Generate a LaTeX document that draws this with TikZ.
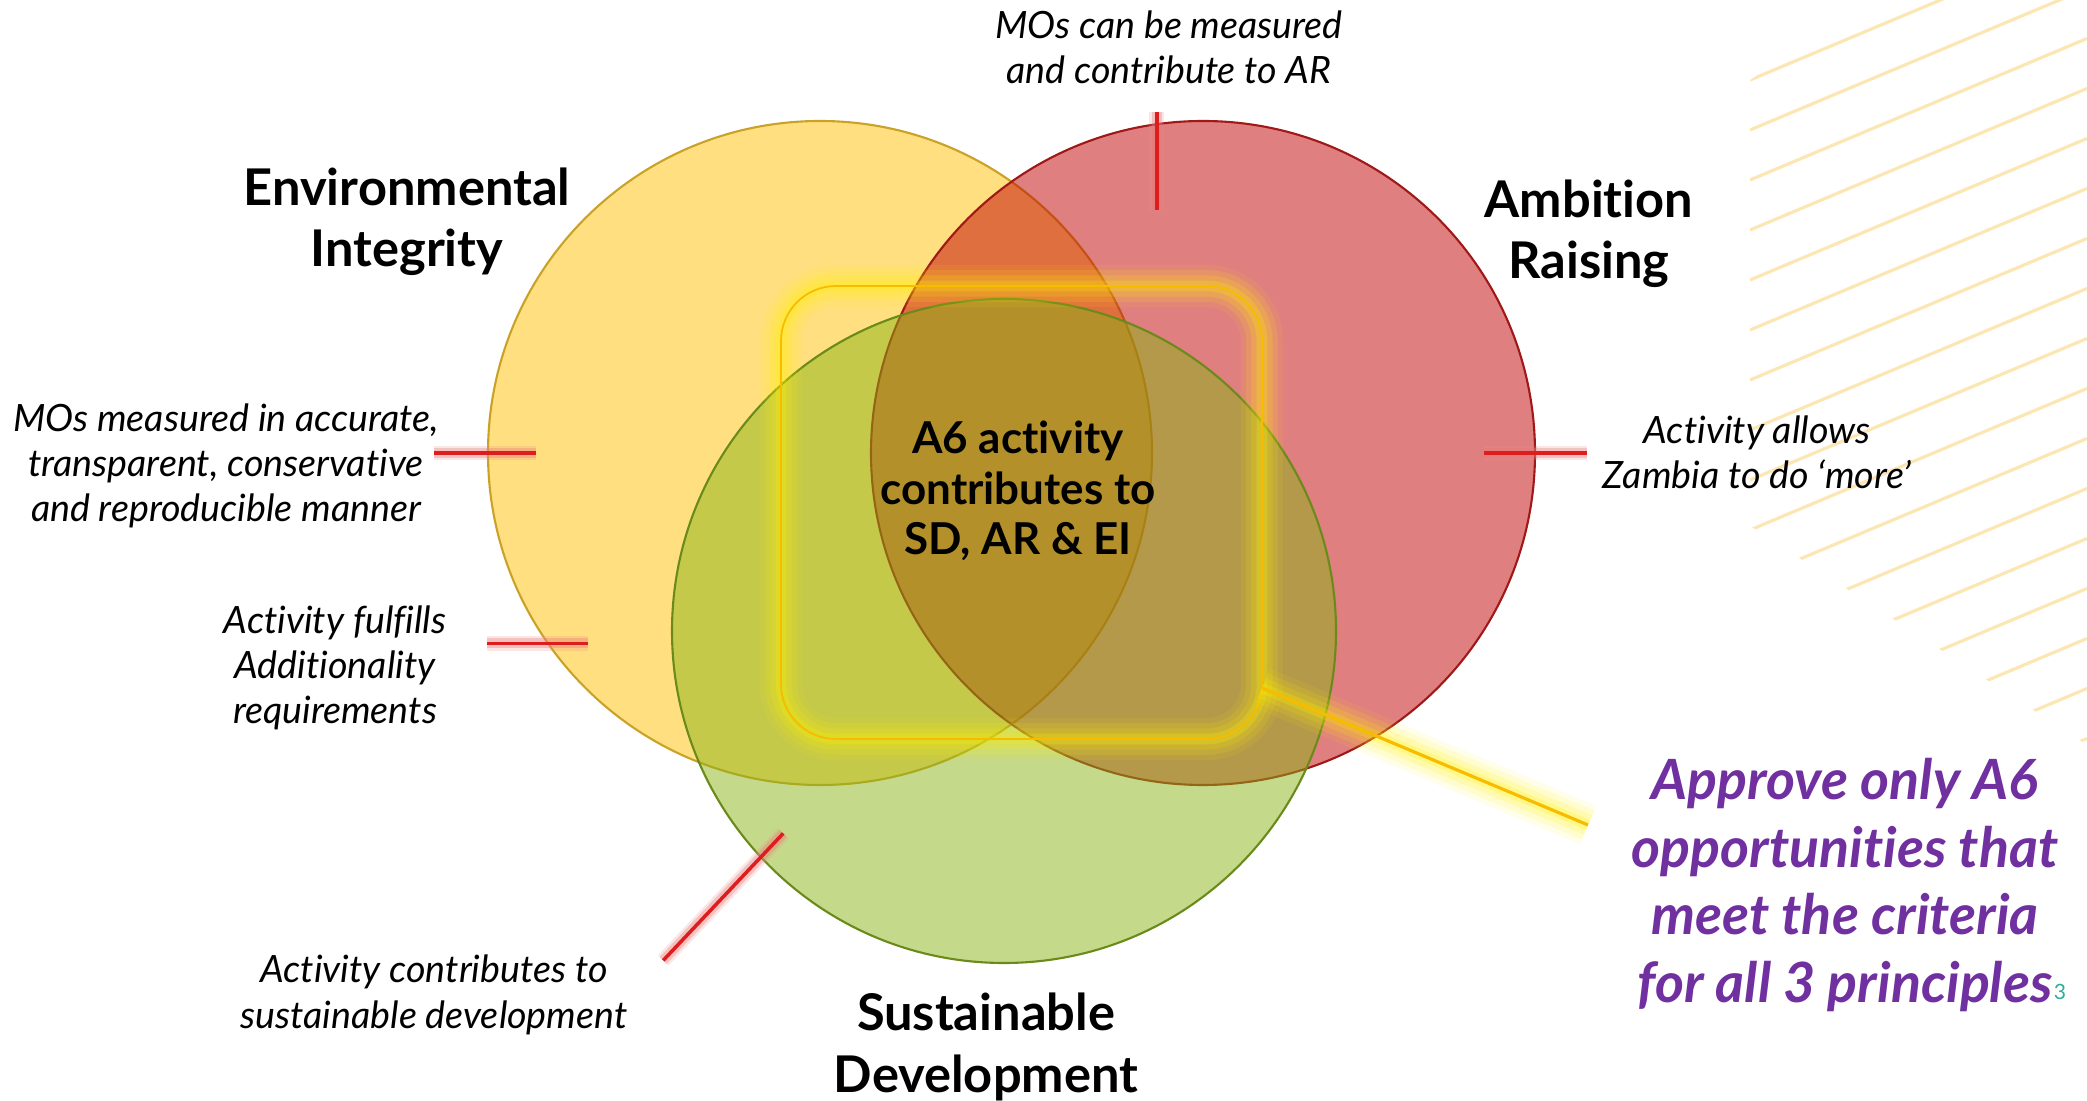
\documentclass[tikz,border=0pt]{standalone}
\usepackage{fontspec}
\setmainfont{Lato}[Ligatures=NoCommon]
\usetikzlibrary{calc}

\definecolor{eiyellow}{HTML}{FFC000}
\definecolor{eirim}{HTML}{C9A227}
\definecolor{arred}{HTML}{C00000}
\definecolor{arrim}{HTML}{A01818}
\definecolor{sdgreen}{HTML}{8BB315}
\definecolor{sdrim}{HTML}{6A8A1A}
\definecolor{hatchcol}{HTML}{FCE6B4}
\definecolor{tickred}{HTML}{DC1E1E}
\definecolor{glowcol}{HTML}{FFF000}
\definecolor{focusrim}{HTML}{F7BC00}
\definecolor{notepurple}{HTML}{7030A0}
\definecolor{pageteal}{HTML}{2BAE9A}

\tikzset{
  principle/.style={circle, inner sep=0pt, outer sep=0pt, minimum size=6.64cm,
    fill opacity=0.5, line width=0.6pt},
  title/.style={align=center, font=\fontsize{14.4}{17.4}\selectfont\bfseries},
  note/.style={align=center, font=\fontsize{10.7}{12.9}\selectfont\itshape},
  redtick/.style={draw=tickred, line width=1pt,
    preaction={draw=tickred!50, draw opacity=0.22, line width=4.2pt},
    preaction={draw=tickred!60, draw opacity=0.35, line width=2.8pt}},
  glowyel/.style={draw=focusrim, line width=0.5pt,
    preaction={draw=glowcol, draw opacity=0.08, line width=12pt},
    preaction={draw=glowcol, draw opacity=0.12, line width=9pt},
    preaction={draw=glowcol, draw opacity=0.16, line width=6pt},
    preaction={draw=glowcol, draw opacity=0.22, line width=3pt}},
  hatchline/.style={draw=hatchcol, line width=0.9pt}
}

\begin{document}
\begin{tikzpicture}
\useasboundingbox (0,0) rectangle (20.87,-11.01);

% hatching top right
\begin{scope}
\clip (17.50,-0.80) -- (18.70,0) -- (20.87,0) -- (20.87,-7.45) -- (17.50,-5.26) -- cycle;
\foreach \yy in {0.3,0.8,...,9.4}
  \draw[hatchline] (17.50,-\yy) -- ++(3.37,1.415);
\end{scope}

% the three circles
\node[principle, fill=eiyellow, draw=eirim] (EI) at (8.20,-4.53) {};
\node[principle, fill=arred, draw=arrim] (AR) at (12.03,-4.53) {};
\node[principle, fill=sdgreen, draw=sdrim] (SD) at (10.04,-6.31) {};

% glowing frame
\node[glowyel, rounded corners=0.55cm, minimum width=4.81cm, minimum height=4.53cm,
  inner sep=0pt, outer sep=0pt] (focus) at (10.215,-5.125) {};

% ticks
\draw[redtick] ([yshift=0.12cm]AR.98) -- ([yshift=-0.86cm]AR.98);
\draw[redtick] ([xshift=-0.54cm]EI.west) -- ([xshift=0.48cm]EI.west);
\draw[redtick] ([xshift=-0.61cm]EI.215) -- ([xshift=0.40cm]EI.215);
\draw[redtick] ([xshift=-0.51cm]AR.east) -- ([xshift=0.52cm]AR.east);
\draw[redtick] ([shift={(0.22,0.24)}]SD.223) -- ([shift={(-0.98,-1.03)}]SD.223);

% callout
\coordinate (callout) at (15.88,-8.25);
\draw[glowyel, line width=0.9pt] ([yshift=0.51cm]focus.south east) -- (callout);

% texts
\node[title] (EIlbl) at (4.07,-2.22) {Environmental\\Integrity};
\node[title] (ARlbl) at (15.89,-2.34) {Ambition\\Raising};
\node[title] (SDlbl) at (9.86,-10.47) {Sustainable\\Development};
\node[align=center, font=\fontsize{12.5}{14.4}\selectfont\bfseries] (core) at (10.18,-4.91)
  {A6 activity\\contributes to\\SD, AR \& EI};

\node[note] (noteAR) at (11.69,-0.47) {MOs can be measured\\and contribute to AR};
\node[note] (noteEIa) at (2.26,-4.66) {MOs measured in accurate,\\transparent, conservative\\and reproducible manner};
\node[note] (noteEIb) at (3.35,-6.68) {Activity fulfills\\Additionality\\requirements};
\node[note] (noteSD) at (4.34,-9.95) {Activity contributes to\\sustainable development};
\node[note] (noteARb) at (17.57,-4.52) {Activity allows\\Zambia to do ‘more’};

\node[align=center, text=notepurple, font=\fontsize{15.8}{19.3}\selectfont\bfseries\itshape]
  (verdict) at (18.45,-8.85) {Approve only A6\\opportunities that\\meet the criteria\\for all 3 principles};
\node[text=pageteal, font=\fontsize{6}{7}\selectfont] (page) at (20.60,-9.92) {3};
\end{tikzpicture}
\end{document}
